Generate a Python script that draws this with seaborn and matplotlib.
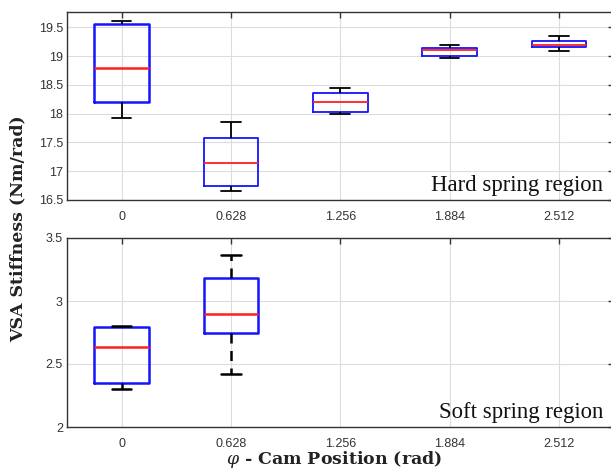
import matplotlib
matplotlib.use("Agg")
import matplotlib.pyplot as plt
import seaborn as sns
import pandas as pd

positions = ["0", "0.628", "1.256", "1.884", "2.512"]

# five-number samples per position (min, q1, median, q3, max)
hard_0 = [17.92, 18.20, 18.80, 19.55, 19.61]
hard_1 = [16.65, 16.75, 17.15, 17.57, 17.85]
hard_2 = [18.00, 18.03, 18.21, 18.35, 18.44]
hard_3 = [18.97, 19.00, 19.10, 19.14, 19.20]
hard_4 = [19.08, 19.16, 19.20, 19.26, 19.35]

soft_0 = [2.305, 2.35, 2.637, 2.79, 2.805]
soft_1 = [2.42, 2.75, 2.895, 3.18, 3.362]

hard_yticks = [16.5, 17, 17.5, 18, 18.5, 19, 19.5]
hard_ytick_labels = ["16.5", "17", "17.5", "18", "18.5", "19", "19.5"]
soft_yticks = [2, 2.5, 3, 3.5]
soft_ytick_labels = ["2", "2.5", "3", "3.5"]

hard_first = pd.DataFrame({"pos": [positions[0]] * 5, "val": hard_0})
hard_rest = pd.DataFrame({
    "pos": sum([[p] * 5 for p in positions[1:]], []),
    "val": hard_1 + hard_2 + hard_3 + hard_4,
})
soft_df = pd.DataFrame({
    "pos": [positions[0]] * 5 + [positions[1]] * 5,
    "val": soft_0 + soft_1,
})

sns.set_style("white")
plt.rcParams["font.family"] = ["Liberation Sans", "DejaVu Sans"]
plt.rcParams["mathtext.fontset"] = "dejavuserif"

fig = plt.figure(figsize=(6.11, 4.71), dpi=100)
W, H = 611, 471
left, right = 67, 613.5
ax1 = fig.add_axes([left / W, 1 - 200 / H, (right - left) / W, (200 - 12.3) / H])
ax2 = fig.add_axes([left / W, 1 - 427 / H, (right - left) / W, (427 - 238) / H])

def draw(ax, df, lw, wls, wlw=None):
    wlw = lw if wlw is None else wlw
    sns.boxplot(
        data=df, x="pos", y="val", order=positions, ax=ax,
        fill=False, color="blue", width=0.5, whis=10, linewidth=lw,
        capwidths=0.18,
        boxprops=dict(color="#1414ff", linewidth=lw),
        medianprops=dict(color="#ff2020", linewidth=lw),
        whiskerprops=dict(color="black", linewidth=wlw, linestyle=wls),
        capprops=dict(color="black", linewidth=wlw),
    )

draw(ax1, hard_first, 1.8, "-", 1.3)
draw(ax1, hard_rest, 1.3, "-")
draw(ax2, soft_df, 1.8, (0, (4, 3)))

for ax in (ax1, ax2):
    ax.set_xlim(-0.5, 4.5)
    ax.set_xlabel("")
    ax.set_ylabel("")
    ax.grid(True, color="#dcdcdc", linewidth=0.8)
    ax.set_axisbelow(True)
    for s in ax.spines.values():
        s.set_color("#333333")
        s.set_linewidth(1.0)
    ax.tick_params(direction="in", length=4, width=1.0, color="#333333",
                   top=True, right=True, labelsize=9, labelcolor="#333333", pad=8)
    ax.set_xticks(range(len(positions)))
    ax.set_xticklabels(positions)

ax1.set_ylim(16.5, 19.76)
ax1.set_yticks(hard_yticks)
ax1.set_yticklabels(hard_ytick_labels)
ax2.set_ylim(2, 3.5)
ax2.set_yticks(soft_yticks)
ax2.set_yticklabels(soft_ytick_labels)
for ax in (ax1, ax2):
    ax.tick_params(axis="y", pad=3)

ax1.text(603 / W, 1 - 191 / H, "Hard spring region", transform=fig.transFigure,
         ha="right", va="baseline", fontsize=16.4, family="Liberation Serif", color="#111111")
ax2.text(603 / W, 1 - 418 / H, "Soft spring region", transform=fig.transFigure,
         ha="right", va="baseline", fontsize=16.4, family="Liberation Serif", color="#111111")

fig.text(18 / W, 1 - 229 / H, "VSA Stiffness (Nm/rad)", rotation=90, ha="center", va="center",
         fontsize=12.5, fontweight="bold", family="DejaVu Serif", color="#222222")
fig.text(334 / W, 1 - 460 / H, r"$\varphi$ - Cam Position (rad)", ha="center", va="center",
         fontsize=12.5, fontweight="bold", family="DejaVu Serif", color="#222222")

fig.savefig("out.png", dpi=100)
